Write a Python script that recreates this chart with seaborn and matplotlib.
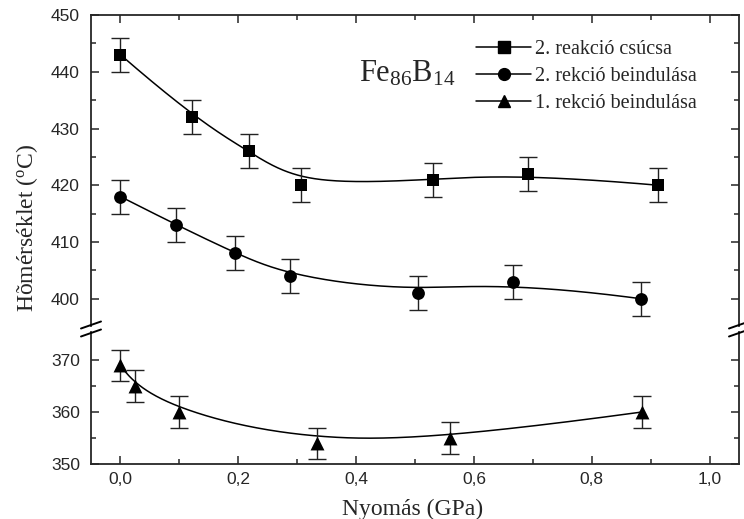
import numpy as np
import matplotlib
matplotlib.use("Agg")
import matplotlib.pyplot as plt
from matplotlib.lines import Line2D
import seaborn as sns
import pandas as pd

# ---- data ----
x_peak2 = [0.0, 0.122, 0.219, 0.306, 0.531, 0.691, 0.913]
y_peak2 = [443, 432, 426, 420, 421, 422, 420]
x_start2 = [0.0, 0.095, 0.195, 0.287, 0.505, 0.667, 0.884]
y_start2 = [418, 413, 408, 404, 401, 403, 400]
x_start1 = [0.0, 0.024, 0.099, 0.333, 0.560, 0.885]
y_start1 = [369, 365, 360, 354, 355, 360]
err = 3.0
labels = ["2. reakció csúcsa", "2. rekció beindulása", "1. rekció beindulása"]
xticks = [0.0, 0.2, 0.4, 0.6, 0.8, 1.0]
xticklabels = ["0,0", "0,2", "0,4", "0,6", "0,8", "1,0"]


def bspline(xs, ys, k=3, num=300):
    """Clamped B-spline using the data points as control points (Origin 'B-Spline' line)."""
    P = np.column_stack([xs, ys]).astype(float)
    n = len(P)
    k = min(k, n - 1)
    t = np.concatenate([np.zeros(k), np.linspace(0, 1, n - k + 1), np.ones(k)])
    u = np.linspace(0, 1, num)
    u[-1] -= 1e-9
    N = np.zeros((num, len(t) - 1))
    for i in range(len(t) - 1):
        N[:, i] = ((t[i] <= u) & (u < t[i + 1])).astype(float)
    for d in range(1, k + 1):
        Nn = np.zeros((num, len(t) - 1 - d))
        for i in range(len(t) - 1 - d):
            a = 0.0
            b = 0.0
            if t[i + d] > t[i]:
                a = (u - t[i]) / (t[i + d] - t[i]) * N[:, i]
            if t[i + d + 1] > t[i + 1]:
                b = (t[i + d + 1] - u) / (t[i + d + 1] - t[i + 1]) * N[:, i + 1]
            Nn[:, i] = a + b
        N = Nn
    C = N @ P
    return C[:, 0], C[:, 1]


sns.set_style("ticks")
plt.rcParams["font.family"] = ["Liberation Sans", "DejaVu Sans"]
plt.rcParams["mathtext.fontset"] = "custom"
plt.rcParams["mathtext.rm"] = "Liberation Serif"
plt.rcParams["mathtext.it"] = "Liberation Serif:italic"

W, H = 744, 519
fig = plt.figure(figsize=(W / 100, H / 100), dpi=100)
L, R = 91, 739
top_y, brk_hi, brk_lo, bot_y = 15, 326, 332, 464
ax_t = fig.add_axes([L / W, 1 - brk_hi / H, (R - L) / W, (brk_hi - top_y) / H])
ax_b = fig.add_axes([L / W, 1 - bot_y / H, (R - L) / W, (bot_y - brk_lo) / H])

series = [(x_peak2, y_peak2, "s", 80), (x_start2, y_start2, "o", 85), (x_start1, y_start1, "^", 100)]
for (xs, ys, mk, sz) in series:
    cx, cy = bspline(xs, ys)
    dfc = pd.DataFrame({"x": cx, "y": cy})
    dfp = pd.DataFrame({"x": xs, "y": ys})
    for ax in (ax_t, ax_b):
        sns.lineplot(data=dfc, x="x", y="y", ax=ax, color="black", lw=1.1, legend=False,
                     sort=False, estimator=None)
        ax.errorbar(xs, ys, yerr=err, fmt="none", ecolor="#222222", elinewidth=1.0,
                    capsize=6.5, capthick=1.0, zorder=3)
        sns.scatterplot(data=dfp, x="x", y="y", ax=ax, marker=mk, color="black",
                        s=sz, edgecolor="black", linewidth=0, zorder=4, legend=False)

for ax in (ax_t, ax_b):
    ax.set_xlim(-0.05, 1.05)
    ax.set_xticks(xticks)
    ax.set_xticks(np.arange(0.1, 1.0, 0.2), minor=True)
    ax.tick_params(which="both", direction="in", top=True, right=True, width=1.1)
    ax.tick_params(which="major", length=6)
    ax.tick_params(which="minor", length=3.5)
    ax.set_xlabel("")
    ax.set_ylabel("")
    for sp in ax.spines.values():
        sp.set_linewidth(1.3)

ax_t.set_ylim(395.2, 450)
ax_t.set_yticks([400, 410, 420, 430, 440, 450])
ax_t.set_yticks([405, 415, 425, 435, 445], minor=True)
ax_t.spines["bottom"].set_visible(False)
ax_t.tick_params(which="both", bottom=False, labelbottom=False)

ax_b.set_ylim(350, 375.4)
ax_b.set_yticks([350, 360, 370])
ax_b.set_yticks([355, 365], minor=True)
ax_b.spines["top"].set_visible(False)
ax_b.tick_params(which="both", top=False)
ax_b.set_xticklabels(xticklabels)

for ax in (ax_t, ax_b):
    ax.tick_params(axis="both", which="major", labelsize=12.5)
    ax.tick_params(axis="y", pad=8)
ax_b.tick_params(axis="x", pad=6)

# break marks
for xp in (L, R):
    for yp in (brk_hi - 1, brk_lo + 1):
        fig.add_artist(Line2D([(xp - 10) / W, (xp + 10) / W],
                              [1 - (yp + 3.5) / H, 1 - (yp - 3.5) / H],
                              color="black", lw=1.4, transform=fig.transFigure))

fig.text(413 / W, 1 - 515 / H, "Nyomás (GPa)", family="Liberation Serif", fontsize=17,
         ha="center", va="baseline")
fig.text(27 / W, 1 - 228 / H, r"Hõmérséklet ($^{\rm o}$C)", family="Liberation Serif",
         fontsize=17, ha="center", va="center", rotation=90)
ax_t.text(0.4136, 0.7846, r"Fe$_{86}$B$_{14}$", transform=ax_t.transAxes, fontsize=22,
          family="Liberation Serif", ha="left", va="baseline")

handles = [Line2D([], [], color="black", lw=1.1, marker=m, markersize=ms)
           for m, ms in (("s", 8), ("o", 8.5), ("^", 8.5))]
ax_t.legend(handles, labels, loc="upper left", bbox_to_anchor=((476 - L) / (R - L), 0.92),
            frameon=False, prop={"family": "Liberation Serif", "size": 14.5},
            handlelength=2.75, handletextpad=0.2, labelspacing=0.4,
            borderaxespad=0, borderpad=0)

fig.savefig("out.png", dpi=100)
